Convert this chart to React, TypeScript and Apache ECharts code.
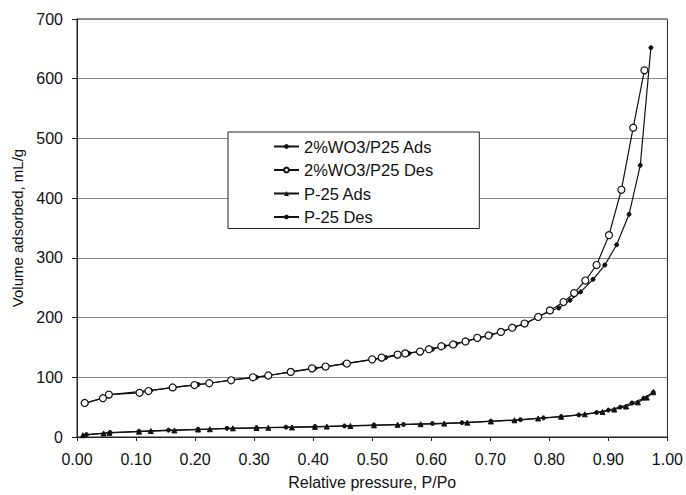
import React, { useEffect, useRef } from "react";
import * as echarts from "echarts";

const seriesNames = ["2%WO3/P25 Ads", "2%WO3/P25 Des", "P-25 Ads", "P-25 Des"];

const wo3Ads: number[][] = [
  [0.016, 57], [0.046, 66], [0.056, 71], [0.105, 76], [0.125, 78], [0.165, 83], [0.205, 88],
  [0.225, 90], [0.264, 96], [0.304, 100], [0.324, 103], [0.364, 109], [0.403, 115], [0.423, 118],
  [0.453, 123], [0.503, 130], [0.523, 133], [0.543, 137], [0.562, 140], [0.582, 144], [0.602, 147],
  [0.622, 152], [0.642, 156], [0.661, 161], [0.681, 166], [0.701, 171], [0.721, 177], [0.741, 184],
  [0.761, 191], [0.781, 201], [0.801, 211], [0.816, 216], [0.835, 229], [0.853, 243], [0.874, 264],
  [0.894, 288], [0.914, 322], [0.935, 373], [0.954, 455], [0.972, 652],
];

const wo3Des: number[][] = [
  [0.961, 614], [0.942, 518], [0.922, 414], [0.901, 338], [0.880, 288], [0.861, 262], [0.842, 241],
  [0.824, 226], [0.801, 212], [0.781, 201], [0.758, 190], [0.737, 183], [0.718, 176], [0.697, 170],
  [0.678, 166], [0.658, 160], [0.637, 155], [0.617, 152], [0.596, 147], [0.581, 143], [0.556, 140],
  [0.543, 138], [0.516, 133], [0.500, 130], [0.457, 123], [0.421, 118], [0.398, 115], [0.362, 109],
  [0.324, 103], [0.298, 100], [0.261, 95], [0.224, 90], [0.199, 87], [0.162, 83], [0.121, 77],
  [0.106, 74], [0.054, 71], [0.044, 65], [0.013, 57],
];

const p25Ads: number[][] = [
  [0.010, 3], [0.045, 6], [0.055, 7], [0.105, 9], [0.125, 10], [0.165, 11], [0.205, 12.5],
  [0.225, 13], [0.264, 14.5], [0.304, 15], [0.324, 15.5], [0.364, 16], [0.403, 17], [0.423, 17.5],
  [0.463, 18.5], [0.503, 19.5], [0.543, 20.5], [0.582, 21.5], [0.622, 22.5], [0.661, 24],
  [0.701, 26], [0.741, 28], [0.781, 31], [0.82, 34], [0.86, 38], [0.89, 42], [0.91, 46],
  [0.93, 51], [0.95, 58], [0.965, 66], [0.976, 75],
];

const p25Des: number[][] = [
  [0.976, 75], [0.96, 65], [0.94, 57], [0.92, 50], [0.90, 45], [0.88, 41], [0.85, 37], [0.82, 34],
  [0.79, 32], [0.751, 29], [0.701, 26.5], [0.652, 24], [0.602, 22.5], [0.553, 21], [0.503, 20],
  [0.453, 18.5], [0.403, 17.5], [0.354, 16.5], [0.304, 15.5], [0.254, 14.5], [0.205, 13],
  [0.155, 11.5], [0.105, 9.5], [0.056, 7.5], [0.016, 4],
];

const FONT = "Liberation Sans, Arial, sans-serif";

export default function App() {
  const ref = useRef<HTMLDivElement>(null);
  useEffect(() => {
    if (!ref.current) return;
    const chart = echarts.init(ref.current, undefined, { renderer: "svg" });
    const lineStyle = { color: "#111", width: 1.2 };
    chart.setOption({
      animation: false,
      backgroundColor: "#fff",
      textStyle: { fontFamily: FONT },
      grid: {
        left: 77, right: 17, top: 19, bottom: 54,
        show: true, borderColor: "#222", borderWidth: 1,
      },
      legend: {
        orient: "vertical",
        left: 228,
        top: 132,
        padding: [6, 46, 3, 45],
        itemGap: 6.5,
        itemWidth: 25,
        itemHeight: 6,
        backgroundColor: "#fff",
        borderColor: "#222",
        borderWidth: 1,
        borderRadius: 0,
        textStyle: { fontFamily: FONT, fontSize: 16.5, color: "#111" },
        data: seriesNames,
      },
      xAxis: {
        type: "value",
        min: 0,
        max: 1,
        interval: 0.1,
        name: "Relative pressure, P/Po",
        nameLocation: "middle",
        nameGap: 37,
        nameTextStyle: { fontFamily: FONT, fontSize: 16, color: "#111" },
        axisLine: { lineStyle: { color: "#222" } },
        axisTick: { show: true, length: 4, lineStyle: { color: "#222" } },
        splitLine: { show: false },
        axisLabel: {
          fontFamily: FONT, fontSize: 16, color: "#111", margin: 14,
          formatter: (v: number) => v.toFixed(2),
        },
      },
      yAxis: {
        type: "value",
        min: 0,
        max: 700,
        interval: 100,
        name: "Volume adsorbed, mL/g",
        nameLocation: "middle",
        nameGap: 49,
        nameTextStyle: { fontFamily: FONT, fontSize: 15, color: "#111" },
        axisLine: { show: true, lineStyle: { color: "#222" } },
        axisTick: { show: true, length: 5, lineStyle: { color: "#222" } },
        splitLine: { show: true, lineStyle: { color: "#888", width: 1 } },
        axisLabel: { fontFamily: FONT, fontSize: 16, color: "#111", margin: 14 },
      },
      series: [
        {
          name: seriesNames[0], type: "line", data: wo3Ads, symbol: "circle", symbolSize: 4,
          lineStyle, itemStyle: { color: "#111", borderColor: "#111" }, z: 3,
        },
        {
          name: seriesNames[1], type: "line", data: wo3Des, symbol: "circle", symbolSize: 7,
          lineStyle, itemStyle: { color: "#fff", borderColor: "#111", borderWidth: 1.2 }, z: 4,
        },
        {
          name: seriesNames[2], type: "line", data: p25Ads, symbol: "triangle", symbolSize: 5,
          lineStyle, itemStyle: { color: "#111", borderColor: "#111" }, z: 3,
        },
        {
          name: seriesNames[3], type: "line", data: p25Des, symbol: "circle", symbolSize: 4,
          lineStyle, itemStyle: { color: "#111", borderColor: "#111" }, z: 3,
        },
      ],
    });
    return () => chart.dispose();
  }, []);
  return <div ref={ref} style={{ width: 686, height: 495, position: "absolute", left: 0, top: 0 }} />;
}
